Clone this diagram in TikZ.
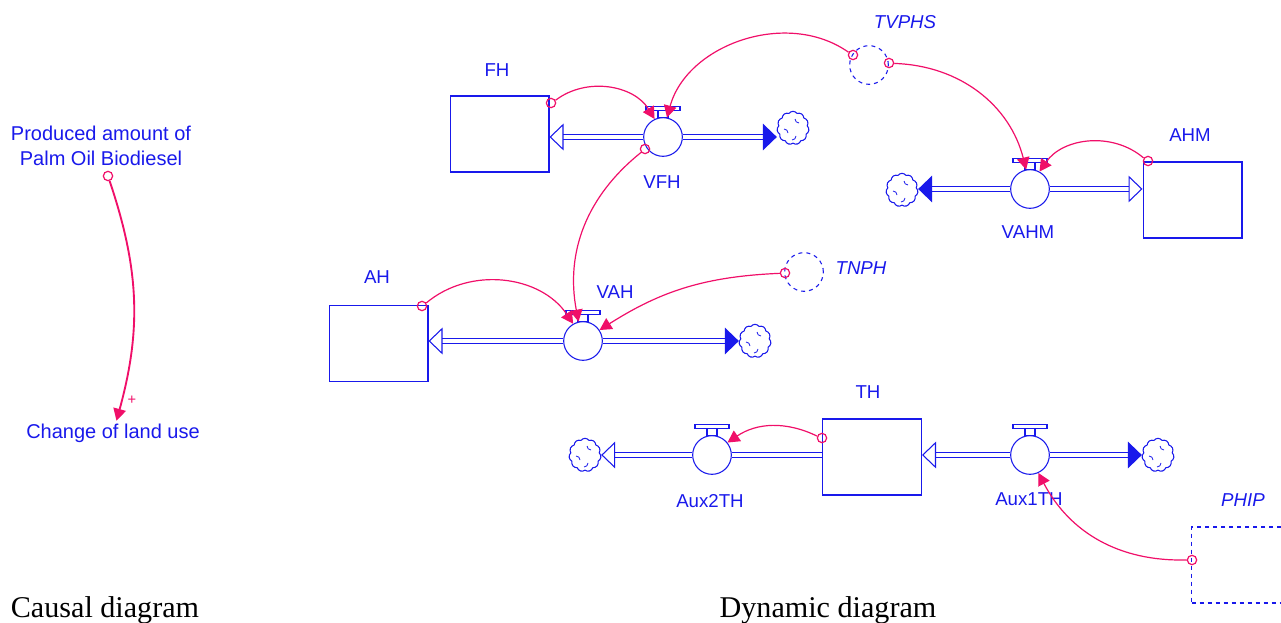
\documentclass[tikz,border=0pt]{standalone}
\usepackage{fontspec}
\setmainfont{Liberation Serif}
\setsansfont{Liberation Sans}
\usetikzlibrary{positioning,arrows.meta,shapes.symbols}
\definecolor{sdblue}{RGB}{25,25,235}
\definecolor{sdpink}{RGB}{240,15,105}
\tikzset{
  stock/.style={draw=sdblue, line width=1pt, minimum width=74pt, minimum height=57pt, inner sep=0pt},
  valve/.style={circle, draw=sdblue, line width=0.8pt, minimum size=29pt, inner sep=0pt},
  auxvar/.style={circle, draw=sdblue, dashed, line width=0.8pt, minimum size=29pt, inner sep=0pt},
  sink/.style={cloud, cloud puffs=11, cloud puff arc=110, aspect=1, draw=sdblue, line width=0.8pt, minimum width=24pt, minimum height=25pt, inner sep=0pt},
  lbl/.style={text=sdblue, font=\sffamily\fontsize{14}{17}\selectfont, inner sep=0pt},
  ilbl/.style={lbl, font=\sffamily\itshape\fontsize{14}{17}\selectfont},
  handle/.style={draw=sdblue, line width=0.8pt},
  pipe/.style={draw=sdblue, double=white, double distance=2.6pt, line width=0.8pt},
  inflow/.style={pipe, -{Triangle[open, length=10.5pt, width=20pt, line width=0.8pt]}},
  outflow/.style={pipe, -{Triangle[length=10.5pt, width=20pt, line width=0.8pt]}},
  link/.style={draw=sdpink, line width=0.9pt, -{Triangle[length=9pt, width=9.5pt]}},
  tap/.style={circle, draw=sdpink, line width=0.9pt, minimum size=7pt, inner sep=0pt},
}
% handle on top of a valve
\newcommand{\valvehandle}[1]{%
  \draw[handle] ([xshift=-3.75pt]#1.north) rectangle ++(10,-7)
    ([xshift=-12.75pt,yshift=5.25pt]#1.north) rectangle ++(34,-4);}
% little curls inside a cloud
\newcommand{\sinkcurls}[1]{%
  \draw[handle, line width=0.6pt] ([shift={(2,-9)}]#1.center) arc[start angle=180, end angle=270, radius=3pt]
    ([shift={(-9,1)}]#1.center) arc[start angle=90, end angle=0, radius=3pt]
    ([shift={(3,8)}]#1.center) arc[start angle=0, end angle=-90, radius=3pt];}
\begin{document}
\begin{tikzpicture}[x=0.75pt, y=-0.75pt]
  \clip (0,0) rectangle (1281,623);
  % causal diagram
  \node[lbl, font=\sffamily\fontsize{15}{18.75}\selectfont, align=center] (pob) at (101,146) {Produced amount of\\Palm Oil Biodiesel};
  \node[lbl, font=\sffamily\fontsize{15}{18}\selectfont, inner sep=2pt] (clu) at (113,433) {Change of land use};
  \node[tap] (pobtap) at (108,176) {};
  \draw[link, line width=1.4pt] (pobtap) to[bend left=17] (clu);
  \node[text=sdpink, font=\sffamily\fontsize{11}{11}\selectfont, inner sep=0pt] (plus) at (132,400) {+};
  % dynamic diagram: stocks
  \node[stock] (fh) at (499.5,134) {};
  \node[stock] (ahm) at (1192.5,200) {};
  \node[stock] (ah) at (378.5,343.5) {};
  \node[stock] (th) at (872,457) {};
  \node[stock, dashed] (phip) at (1241,565) {};
  % valves
  \node[valve] (vfh) at (663,137) {};
  \node[valve] (vahm) at (1030,189) {};
  \node[valve] (vah) at (583,341) {};
  \node[valve] (aux2) at (712,455) {};
  \node[valve] (aux1) at (1030,455) {};
  \valvehandle{vfh}
  \valvehandle{vahm}
  \valvehandle{vah}
  \valvehandle{aux2}
  \valvehandle{aux1}
  % clouds
  \node[sink] (cfh) at (793,128) {};
  \node[sink] (cvahm) at (902,190) {};
  \node[sink] (cvah) at (755,341) {};
  \node[sink] (caux2) at (585,455) {};
  \node[sink] (caux1) at (1158,455) {};
  \sinkcurls{cfh}
  \sinkcurls{cvahm}
  \sinkcurls{cvah}
  \sinkcurls{caux2}
  \sinkcurls{caux1}
  % auxiliaries
  \node[auxvar] (tvphs) at (869,65) {};
  \node[auxvar] (tnph) at (804,272) {};
  % labels
  \node[lbl] (fhlbl) at (497,70) {FH};
  \node[lbl] (vfhlbl) at (662,182) {VFH};
  \node[ilbl] (tvphslbl) at (905,22) {TVPHS};
  \node[lbl] (ahmlbl) at (1190,135) {AHM};
  \node[lbl] (vahmlbl) at (1028,232) {VAHM};
  \node[lbl] (ahlbl) at (377,277) {AH};
  \node[lbl] (vahlbl) at (615,292) {VAH};
  \node[ilbl] (tnphlbl) at (861,268) {TNPH};
  \node[lbl] (thlbl) at (868,392) {TH};
  \node[lbl] (aux2lbl) at (710,501) {Aux2TH};
  \node[lbl] (aux1lbl) at (1029,499) {Aux1TH};
  \node[ilbl] (phiplbl) at (1243,500) {PHIP};
  % flows
  \draw[inflow] (vfh) -- (vfh -| fh.east);
  \draw[outflow] (vfh) -- (vfh -| cfh.west);
  \draw[outflow] (vahm) -- (vahm -| cvahm.east);
  \draw[inflow] (vahm) -- (vahm -| ahm.west);
  \draw[inflow] (vah) -- (vah -| ah.east);
  \draw[outflow] (vah) -- (vah -| cvah.west);
  \draw[pipe] (th.west |- aux2) -- (aux2);
  \draw[inflow] (aux2) -- (aux2 -| caux2.east);
  \draw[inflow] (aux1) -- (aux1 -| th.east);
  \draw[outflow] (aux1) -- (aux1 -| caux1.west);
  % taps
  \node[tap] (fhtap) at (551,103) {};
  \node[tap] (tvtapl) at (853,55) {};
  \node[tap] (tvtapr) at (889,63) {};
  \node[tap] (ahmtap) at (1148,161) {};
  \node[tap] (vfhtap) at (645,149) {};
  \node[tap] (ahtap) at (422,306) {};
  \node[tap] (tnphtap) at (785,273) {};
  \node[tap] (thtap) at (822,438) {};
  \node[tap] (phiptap) at (1192,560) {};
  % links
  \draw[link] (fhtap) to[bend left=48] (vfh);
  \draw[link] (tvtapl) to[bend right=55] (vfh);
  \draw[link] (tvtapr) to[bend left=37] (vahm);
  \draw[link] (ahmtap) to[bend right=48] (vahm);
  \draw[link] (vfhtap) to[bend right=31] (vah);
  \draw[link] (ahtap) to[bend left=48] (vah);
  \draw[link] (tnphtap) to[bend right=15] (vah);
  \draw[link] (thtap) to[bend right=30] (aux2);
  \draw[link] (phiptap) to[bend left=32] (aux1);
  % captions
  \node[font=\fontsize{22.6}{26}\selectfont, anchor=base, inner sep=0pt] (causal) at (105,617) {Causal diagram};
  \node[font=\fontsize{22.6}{26}\selectfont, anchor=base, inner sep=0pt] (dynamic) at (828,617) {Dynamic diagram};
\end{tikzpicture}
\end{document}
